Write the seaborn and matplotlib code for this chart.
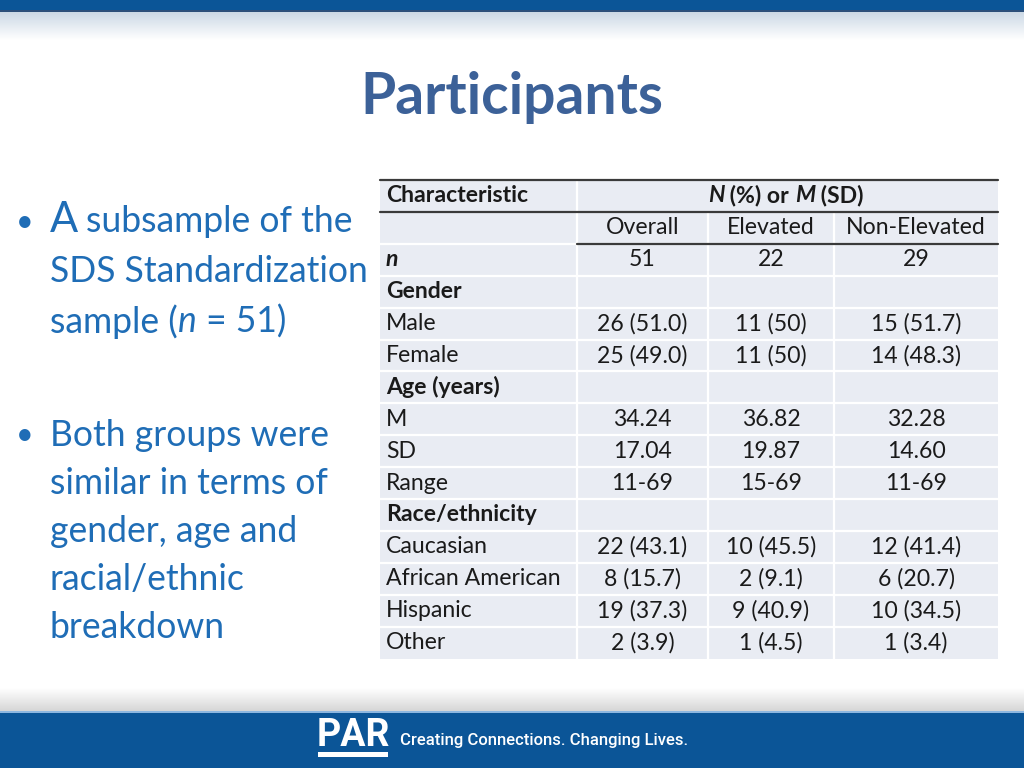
import numpy as np
import matplotlib
matplotlib.use("Agg")
import matplotlib.pyplot as plt
import seaborn as sns

# table content
row_labels = ["n", "Gender", "Male", "Female", "Age (years)", "M", "SD", "Range",
              "Race/ethnicity", "Caucasian", "African American", "Hispanic", "Other"]
bold_rows = ["Gender", "Age (years)", "Race/ethnicity"]
group_names = ["Overall", "Elevated", "Non-Elevated"]
overall = ["51", "", "26 (51.0)", "25 (49.0)", "", "34.24", "17.04", "11-69",
           "", "22 (43.1)", "8 (15.7)", "19 (37.3)", "2 (3.9)"]
elevated = ["22", "", "11 (50)", "11 (50)", "", "36.82", "19.87", "15-69",
            "", "10 (45.5)", "2 (9.1)", "9 (40.9)", "1 (4.5)"]
non_elevated = ["29", "", "15 (51.7)", "14 (48.3)", "", "32.28", "14.60", "11-69",
                "", "12 (41.4)", "6 (20.7)", "10 (34.5)", "1 (3.4)"]

title = "Participants"
bullet1 = ["subsample of the", "SDS Standardization", "sample ("]
bullet2 = ["Both groups were", "similar in terms of", "gender, age and",
           "racial/ethnic", "breakdown"]
tagline = "Creating Connections. Changing Lives."

sns.set_theme(style="white")
plt.rcParams['font.family'] = ['Lato', 'DejaVu Sans']

BLUE_BAR = "#0b5597"
CELL = "#e9ecf3"
TXT_BLUE = "#1f6db6"

fig = plt.figure(figsize=(10.24, 7.68), dpi=100)
ax = fig.add_axes([0, 0, 1, 1])
ax.set_xlim(0, 1024)
ax.set_ylim(768, 0)
ax.axis("off")

# top bar + shadow
ax.axhspan(0, 11, color=BLUE_BAR, lw=0)
ax.axhspan(10, 12, color="#2c4f7a", lw=0)
grad = np.linspace(0, 1, 50).reshape(-1, 1)
top_shadow = np.ones((50, 1, 3))
top_shadow[:] = (1 - grad[..., None]) * np.array([0.80, 0.85, 0.90]) + grad[..., None] * 1.0
ax.imshow(top_shadow, extent=(0, 1024, 40, 12), aspect="auto", interpolation="bilinear", zorder=0)

# bottom bar + shadow
bot_shadow = np.ones((50, 1, 3))
bot_shadow[:] = grad[..., None] * np.array([0.84, 0.84, 0.84]) + (1 - grad[..., None]) * 1.0
ax.imshow(bot_shadow, extent=(0, 1024, 711, 688), aspect="auto", interpolation="bilinear", zorder=0)
ax.axhspan(713, 768, color=BLUE_BAR, lw=0)
ax.axhspan(711, 713, color="#8db7e0", lw=0)

# logo
ax.text(353, 736, "PAR", color="white", fontsize=27, fontweight="bold",
        family=["Liberation Sans Narrow", "Roboto"], ha="center", va="center")
ax.axhspan(752, 757, xmin=318 / 1024, xmax=388 / 1024, color="white", lw=0)
ax.text(400, 741, tagline, color="white", fontsize=12, family=["Roboto"],
        ha="left", va="center", fontweight="medium")

# title
ax.text(512, 98, title, color="#3c6198", fontsize=41, fontweight="bold",
        ha="center", va="center")

# bullets
b_kw = dict(color=TXT_BLUE, fontsize=25.6, va="center", ha="left")
ax.text(16, 222, "\u2022", color=TXT_BLUE, fontsize=22, va="center", ha="left")
ax.text(50, 220, "A", color=TXT_BLUE, fontsize=30, va="center", ha="left")
ax.text(86, 222, bullet1[0], **b_kw)
ax.text(50, 272, bullet1[1], **b_kw)
t = ax.text(50, 322, bullet1[2], **b_kw)
t = ax.annotate("n", xy=(1, 0.5), xycoords=t, style="italic", **b_kw)
ax.annotate(" = 51)", xy=(1, 0.5), xycoords=t, **b_kw)

ax.text(16, 435, "\u2022", color=TXT_BLUE, fontsize=22, va="center", ha="left")
for i, line in enumerate(bullet2):
    ax.text(50, 435 + i * 48, line, **b_kw)

# table layout
col_edges = [380, 577, 708, 834, 998]
top = 180
rh = 31.9
n_rows = len(row_labels) + 2
bottom = top + n_rows * rh

ax.add_patch(plt.Rectangle((col_edges[0], top), col_edges[-1] - col_edges[0],
                           bottom - top, color=CELL, lw=0, zorder=1))
# white row separators
for r in range(2, n_rows):
    y = top + r * rh
    ax.plot([col_edges[0], col_edges[-1]], [y, y], color="white", lw=1.6, zorder=2)
# white column separators
ax.plot([col_edges[1]] * 2, [top, bottom], color="white", lw=1.6, zorder=2)
for x in col_edges[2:-1]:
    ax.plot([x, x], [top + rh, bottom], color="white", lw=1.6, zorder=2)
# dark header rules
ax.plot([col_edges[0], col_edges[-1]], [top, top], color="#3a3a3a", lw=1.6, zorder=3)
ax.plot([col_edges[0], col_edges[-1]], [top + rh] * 2, color="#3a3a3a", lw=1.6, zorder=3)
ax.plot([col_edges[1], col_edges[-1]], [top + 2 * rh] * 2, color="#3a3a3a", lw=1.6, zorder=3)

tk = dict(fontsize=16.6, color="#1a1a1a", va="center", zorder=4)
ax.text(col_edges[0] + 6, top + rh / 2, "Characteristic", fontweight="bold", ha="left", **tk)
t = ax.text(708, top + rh / 2, "N", fontweight="bold", style="italic", ha="left", **tk)
t = ax.annotate(" (%) or ", xy=(1, 0.5), xycoords=t, fontweight="bold", ha="left", **tk)
t = ax.annotate("M", xy=(1, 0.5), xycoords=t, fontweight="bold", style="italic", ha="left", **tk)
ax.annotate(" (SD)", xy=(1, 0.5), xycoords=t, fontweight="bold", ha="left", **tk)

centers = [(col_edges[i] + col_edges[i + 1]) / 2 for i in range(1, 4)]
for c, name in zip(centers, group_names):
    ax.text(c, top + 1.5 * rh, name, ha="center", **tk)

for i, lab in enumerate(row_labels):
    y = top + (i + 2.5) * rh
    if lab == "n":
        ax.text(col_edges[0] + 6, y, lab, fontweight="bold", style="italic", ha="left", **tk)
    elif lab in bold_rows:
        ax.text(col_edges[0] + 6, y, lab, fontweight="bold", ha="left", **tk)
    else:
        ax.text(col_edges[0] + 6, y, lab, ha="left", **tk)
    for c, vals in zip(centers, [overall, elevated, non_elevated]):
        ax.text(c, y, vals[i], ha="center", **tk)

fig.savefig("out.png", dpi=100)
